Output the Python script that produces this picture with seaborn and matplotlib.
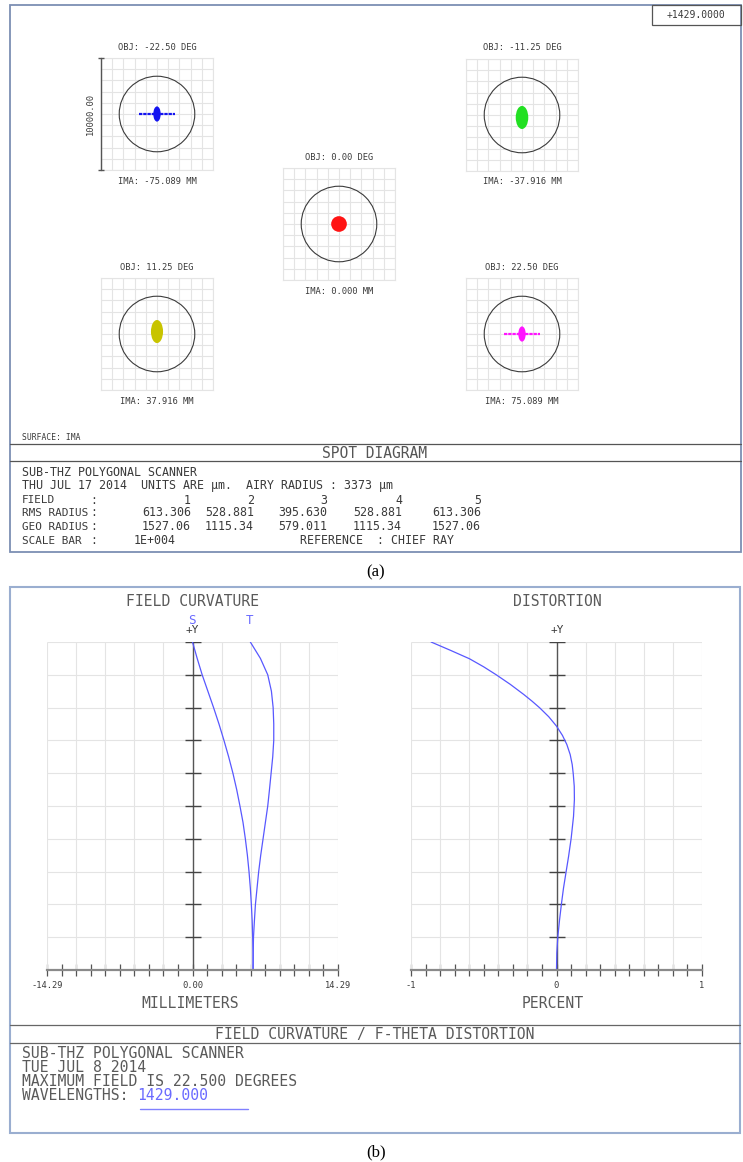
import numpy as np
import matplotlib
matplotlib.use("Agg")
import matplotlib.pyplot as plt
import seaborn as sns
from matplotlib.patches import Circle, Ellipse, Rectangle

sns.set_theme(style="white")
plt.rcParams['font.family'] = ['DejaVu Sans Mono', 'DejaVu Sans']

# ---------------- data ----------------
# spot diagram (units: micrometres), fields 1..5
obj_labels = ["OBJ: -22.50 DEG", "OBJ: -11.25 DEG", "OBJ: 0.00 DEG", "OBJ: 11.25 DEG", "OBJ: 22.50 DEG"]
ima_labels = ["IMA: -75.089 MM", "IMA: -37.916 MM", "IMA: 0.000 MM", "IMA: 37.916 MM", "IMA: 75.089 MM"]
spot_colors = ["#1414f0", "#22e022", "#ff1414", "#c8c400", "#ff14ff"]
spot_half_w = [330, 560, 700, 540, 330]
spot_half_h = [680, 1030, 700, 1030, 680]
spot_dy = [0, -220, 0, 220, 0]
spot_tail = [1600, 0, 0, 0, 1600]
airy_radius = 3373
box_half = 5000

fields = ["1", "2", "3", "4", "5"]
rms_radius = ["613.306", "528.881", "395.630", "528.881", "613.306"]
geo_radius = ["1527.06", "1115.34", "579.011", "1115.34", "1527.06"]

# field curvature (field angle in degrees, focus shift in mm)
field_deg = [22.5, 21.375, 20.25, 19.125, 18.0, 16.875, 15.75, 14.625, 13.5, 12.375, 11.25,
             10.125, 9.0, 7.875, 6.75, 5.625, 4.5, 3.375, 2.25, 1.125, 0.0]
sag_mm = [0.00, 0.46, 0.95, 1.51, 2.07, 2.60, 3.09, 3.55, 3.97, 4.34, 4.66,
          4.96, 5.19, 5.39, 5.55, 5.68, 5.78, 5.86, 5.91, 5.95, 5.95]
tan_mm = [5.68, 6.67, 7.39, 7.75, 7.92, 7.98, 7.98, 7.88, 7.72, 7.56, 7.39,
          7.16, 6.93, 6.70, 6.50, 6.34, 6.18, 6.08, 5.99, 5.96, 5.95]
# f-theta distortion (percent)
dist_field = [22.5, 21.93, 21.35, 20.8, 20.25, 19.59, 18.9, 18.44, 17.98, 17.37, 16.73,
              16.09, 15.47, 14.78, 14.09, 13.47, 12.6, 11.69, 10.54, 9.05, 7.79,
              6.8, 5.61, 4.54, 3.44, 2.27, 1.15, 0.0]
dist_pct = [-0.862, -0.729, -0.598, -0.501, -0.414, -0.317, -0.225, -0.168, -0.115, -0.053, 0.000,
            0.041, 0.071, 0.094, 0.108, 0.115, 0.122, 0.123, 0.117, 0.101, 0.083,
            0.067, 0.048, 0.034, 0.021, 0.009, 0.002, 0.0]
fc_lim = 14.29
dist_lim = 1.0

W, H = 743, 1162
fig = plt.figure(figsize=(W / 100, H / 100), dpi=100)


def px_rect(x0, y0, x1, y1):
    return [x0 / W, 1 - y1 / H, (x1 - x0) / W, (y1 - y0) / H]


bg = fig.add_axes([0, 0, 1, 1])
bg.set_xlim(0, W)
bg.set_ylim(H, 0)
bg.axis('off')

txt = '#3a3a3a'
frame_c = '#7c8fb3'

# ---------- panel (a) frame and text ----------
bg.add_patch(Rectangle((10, 5), 731, 547, fill=False, ec=frame_c, lw=1.3))
bg.add_patch(Rectangle((652, 5), 89, 20, fill=False, ec='#555555', lw=0.9))
bg.text(696, 15, "+1429.0000", ha='center', va='center', fontsize=7, color=txt)
bg.plot([10, 741], [444, 444], color='#555555', lw=0.9)
bg.plot([10, 741], [461, 461], color='#555555', lw=0.9)
bg.text(22, 437, "SURFACE: IMA", fontsize=5.8, va='center', color=txt)
bg.text(374, 453, "SPOT DIAGRAM", fontsize=10.5, ha='center', va='center', color='#555555')

fs_a = 8.4
bg.text(22, 472, "SUB-THZ POLYGONAL SCANNER", fontsize=fs_a, va='center', color=txt)
bg.text(22, 486, "THU JUL 17 2014  UNITS ARE µm.  AIRY RADIUS : 3373 µm", fontsize=fs_a, va='center', color=txt)
col_right = [191, 254, 327, 402, 481]
for row_y, name, vals in [(500, "FIELD", fields), (513, "RMS RADIUS", rms_radius), (527, "GEO RADIUS", geo_radius)]:
    bg.text(22, row_y, name, fontsize=7.9, va='center', color=txt)
    bg.text(90, row_y, ":", fontsize=fs_a, va='center', color=txt)
    for xr, v in zip(col_right, vals):
        bg.text(xr, row_y, v, fontsize=fs_a, va='center', ha='right', color=txt)
bg.text(22, 541, "SCALE BAR", fontsize=7.9, va='center', color=txt)
bg.text(90, 541, ":", fontsize=fs_a, va='center', color=txt)
bg.text(134, 541, "1E+004", fontsize=fs_a, va='center', color=txt)
bg.text(300, 541, "REFERENCE  : CHIEF RAY", fontsize=fs_a, va='center', color=txt)
bg.text(376, 572, "(a)", fontsize=12, ha='center', va='center', family='Liberation Serif', color='black')

# ---------- spot diagrams ----------
box_pos = [(101, 58), (466, 59), (283, 168), (101, 278), (466, 278)]
box_px = 112
grid_ticks = np.arange(-box_half, box_half + 1, 1000)
for i, (x0, y0) in enumerate(box_pos):
    ax = fig.add_axes(px_rect(x0, y0, x0 + box_px, y0 + box_px))
    ax.set_xlim(-box_half, box_half)
    ax.set_ylim(-box_half, box_half)
    ax.set_xticks(grid_ticks)
    ax.set_yticks(grid_ticks)
    ax.tick_params(length=0, labelbottom=False, labelleft=False)
    ax.grid(True, color='#e4e4e4', lw=0.8)
    for sp in ax.spines.values():
        sp.set_color('#e4e4e4')
        sp.set_linewidth(0.8)
    ax.add_patch(Circle((0, 0), airy_radius, fill=False, ec='#3c3c3c', lw=0.8))
    if spot_tail[i] > 0:
        sns.lineplot(x=[-spot_tail[i], spot_tail[i]], y=[0, 0], color=spot_colors[i],
                     lw=1.6, linestyle=(0, (1.5, 0.4)), ax=ax)
    ax.add_patch(Ellipse((0, spot_dy[i]), 2 * spot_half_w[i], 2 * spot_half_h[i],
                         color=spot_colors[i], lw=0))
    ax.set_xlabel('')
    ax.set_ylabel('')
    bg.text(x0 + box_px / 2, y0 - 11, obj_labels[i], fontsize=6.3, ha='center', va='center', color=txt)
    bg.text(x0 + box_px / 2, y0 + box_px + 11, ima_labels[i], fontsize=6.3, ha='center', va='center', color=txt)
    if i == 0:
        ax.plot([-box_half, -box_half], [-box_half, box_half], color='#555555', lw=1.0,
                clip_on=False, zorder=6)
        ax.plot([-box_half, -box_half], [-box_half, box_half], ls='none', marker='_', ms=5,
                mew=1.0, color='#555555', clip_on=False, zorder=6)
        ax.text(-5900, 0, "10000.00", rotation=90, fontsize=6.3, ha='center', va='center', color=txt)

# ---------- panel (b) frame and text ----------
bg.add_patch(Rectangle((10, 587), 730, 546, fill=False, ec='#9aaed0', lw=1.5))
bg.plot([10, 740], [1025, 1025], color='#666666', lw=0.9)
bg.plot([10, 740], [1043, 1043], color='#666666', lw=0.9)
fs_b = 10.6
gray_b = '#5a5a5a'
bg.text(375, 1034, "FIELD CURVATURE / F-THETA DISTORTION", fontsize=fs_b, ha='center', va='center', color=gray_b)
bg.text(22, 1053, "SUB-THZ POLYGONAL SCANNER", fontsize=fs_b, va='center', color=gray_b)
bg.text(22, 1068, "TUE JUL 8 2014", fontsize=fs_b, va='center', color=gray_b)
bg.text(22, 1082, "MAXIMUM FIELD IS 22.500 DEGREES", fontsize=fs_b, va='center', color=gray_b)
bg.text(22, 1096, "WAVELENGTHS:", fontsize=fs_b, va='center', color=gray_b)
bg.text(137, 1096, "1429.000", fontsize=fs_b, va='center', color='#6a6aff')
bg.plot([140, 248], [1109, 1109], color='#8080ff', lw=1.0)
bg.text(376, 1152, "(b)", fontsize=12, ha='center', va='center', family='Liberation Serif', color='black')

bg.text(193, 602, "FIELD CURVATURE", fontsize=fs_b, ha='center', va='center', color=gray_b)
bg.text(557, 602, "DISTORTION", fontsize=fs_b, ha='center', va='center', color=gray_b)
bg.text(192, 630, "+Y", fontsize=8, ha='center', va='center', color=txt)
bg.text(557, 630, "+Y", fontsize=8, ha='center', va='center', color=txt)
bg.text(192, 620, "S", fontsize=9, ha='center', va='center', color='#6a6aff')
bg.text(250, 620, "T", fontsize=9, ha='center', va='center', color='#6a6aff')
bg.text(190, 1003, "MILLIMETERS", fontsize=fs_b, ha='center', va='center', color=gray_b)
bg.text(553, 1003, "PERCENT", fontsize=fs_b, ha='center', va='center', color=gray_b)

curve_c = '#5858ff'
rows = np.linspace(0, 22.5, 11)


def setup_ray_axes(rect, lim, labels):
    ax = fig.add_axes(px_rect(*rect))
    ax.set_xlim(-lim, lim)
    ax.set_ylim(0, 22.5)
    ax.vlines(np.linspace(-lim, lim, 11), 0, 22.5, color='#e4e4e4', lw=0.8)
    ax.hlines(rows[1:], -lim, lim, color='#e4e4e4', lw=0.8)
    ax.set_xticks(np.linspace(-lim, lim, 21))
    ax.set_xticklabels([labels[0]] + [''] * 9 + [labels[1]] + [''] * 9 + [labels[2]],
                       fontsize=6.3, color=txt)
    ax.set_yticks([])
    ax.tick_params(axis='x', direction='inout', length=8, width=0.9, color='#555555', pad=4, bottom=True)
    for side in ['left', 'right', 'top']:
        ax.spines[side].set_visible(False)
    ax.spines['bottom'].set_color('#8a8a8a')
    ax.spines['bottom'].set_linewidth(1.6)
    ax.axvline(0, color='#555555', lw=1.0)
    dx = 8 / (rect[2] - rect[0]) * 2 * lim
    ax.hlines(rows[1:], -dx, dx, color='#444444', lw=1.0)
    return ax


fc = setup_ray_axes((47, 642, 338, 970), fc_lim, ["-14.29", "0.00", "14.29"])
sns.lineplot(x=sag_mm, y=field_deg, sort=False, estimator=None, orient='y', color=curve_c, lw=0.9, ax=fc)
sns.lineplot(x=tan_mm, y=field_deg, sort=False, estimator=None, orient='y', color=curve_c, lw=0.9, ax=fc)
fc.set_xlabel('')
fc.set_ylabel('')

dist = setup_ray_axes((411, 642, 702, 970), dist_lim, ["-1", "0", "1"])
sns.lineplot(x=dist_pct, y=dist_field, sort=False, estimator=None, orient='y', color=curve_c, lw=0.9, ax=dist)
dist.set_xlabel('')
dist.set_ylabel('')

fig.savefig("out.png", dpi=100)
